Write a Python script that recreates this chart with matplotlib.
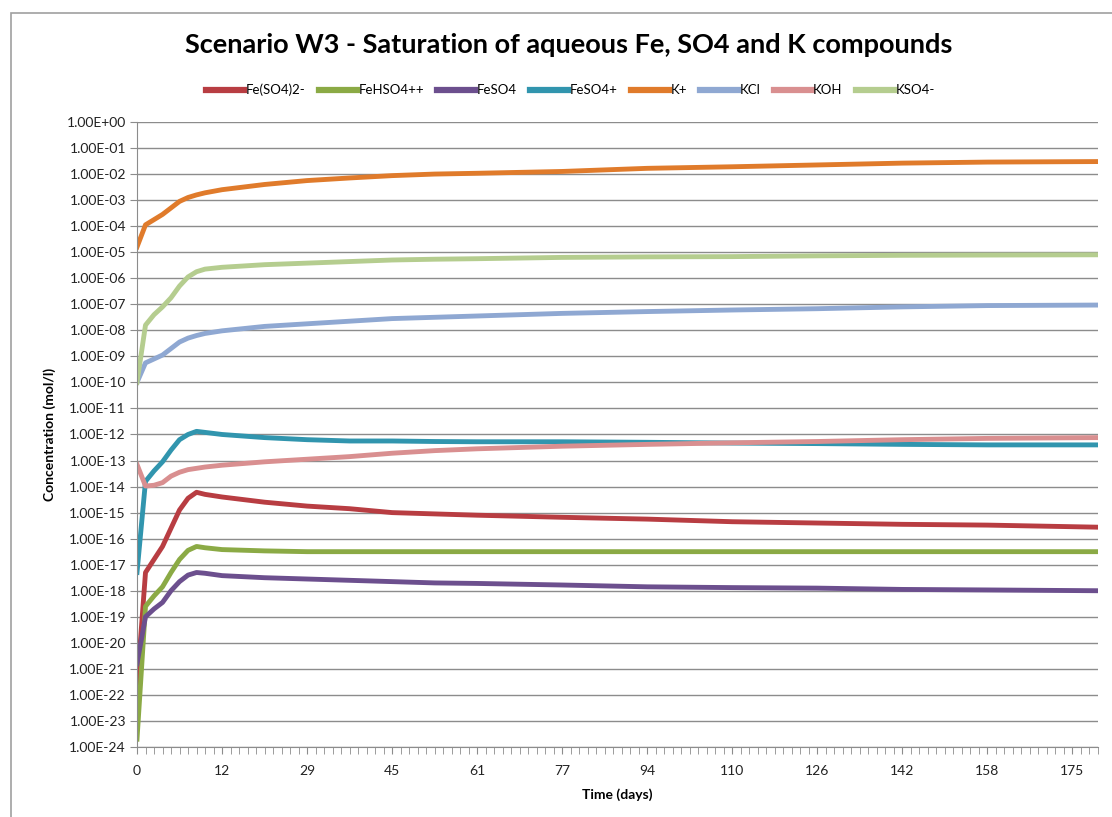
import numpy as np
import matplotlib
matplotlib.use('Agg')
import matplotlib.pyplot as plt
from matplotlib.ticker import FixedLocator, FuncFormatter, MultipleLocator
from matplotlib.patches import Rectangle

plt.rcParams['font.family'] = ['Lato', 'DejaVu Sans']

# sample position (category index) and log10 of concentration
idx = [0, 1, 2, 3, 4, 5, 6, 7, 8, 10, 15, 20, 25, 30, 35, 40, 50, 60, 70, 80, 90, 100, 113]

fe_so4_2 = [-21.7, -17.3, -16.8, -16.3, -15.6, -14.9, -14.45, -14.22, -14.3, -14.4, -14.6, -14.75,
            -14.85, -15.0, -15.05, -15.1, -15.18, -15.25, -15.35, -15.4, -15.45, -15.48, -15.56]
fehso4 = [-23.7, -18.6, -18.2, -17.85, -17.3, -16.8, -16.45, -16.3, -16.35, -16.42, -16.47, -16.5,
          -16.5, -16.5, -16.5, -16.5, -16.5, -16.5, -16.5, -16.5, -16.5, -16.5, -16.5]
feso4 = [-20.8, -19.0, -18.7, -18.45, -18.0, -17.65, -17.4, -17.3, -17.33, -17.42, -17.5, -17.55,
         -17.6, -17.65, -17.7, -17.72, -17.78, -17.85, -17.88, -17.9, -17.95, -17.97, -18.0]
feso4_plus = [-17.3, -13.8, -13.4, -13.05, -12.6, -12.2, -12.0, -11.88, -11.92, -12.0, -12.12, -12.2,
              -12.25, -12.25, -12.27, -12.28, -12.28, -12.3, -12.33, -12.35, -12.38, -12.4, -12.4]
k_plus = [-4.8, -3.95, -3.75, -3.55, -3.3, -3.05, -2.9, -2.8, -2.72, -2.6, -2.4, -2.25,
          -2.15, -2.06, -2.0, -1.97, -1.9, -1.78, -1.72, -1.65, -1.58, -1.54, -1.52]
kcl = [-10.0, -9.25, -9.1, -8.95, -8.7, -8.45, -8.3, -8.2, -8.12, -8.02, -7.85, -7.75,
       -7.65, -7.55, -7.5, -7.45, -7.35, -7.28, -7.22, -7.17, -7.1, -7.05, -7.03]
koh = [-13.15, -13.98, -13.95, -13.85, -13.6, -13.45, -13.35, -13.3, -13.25, -13.18, -13.05, -12.95,
       -12.85, -12.72, -12.62, -12.55, -12.45, -12.38, -12.32, -12.27, -12.2, -12.15, -12.12]
kso4 = [-10.0, -7.8, -7.4, -7.1, -6.75, -6.3, -5.95, -5.75, -5.65, -5.58, -5.48, -5.42,
        -5.36, -5.3, -5.27, -5.25, -5.2, -5.18, -5.17, -5.14, -5.12, -5.11, -5.1]

names = ['Fe(SO4)2-', 'FeHSO4++', 'FeSO4', 'FeSO4+', 'K+', 'KCl', 'KOH', 'KSO4-']
series = [fe_so4_2, fehso4, feso4, feso4_plus, k_plus, kcl, koh, kso4]
colors = ['#B83D42', '#8BAA45', '#6C4F8E', '#3195AE', '#E07B2B', '#8FA8D2', '#D98F90', '#B5CD8F']

day_labels = ['0', '12', '29', '45', '61', '77', '94', '110', '126', '142', '158', '175']
label_pos = [0, 10, 20, 30, 40, 50, 60, 70, 80, 90, 100, 110]

fig = plt.figure(figsize=(11.12, 8.17), dpi=100)
ax = fig.add_axes([0.1232, 0.0857, 0.8642, 0.765])

for name, vals, c in zip(names, series, colors):
    ax.plot(idx, 10.0 ** np.array(vals), color=c, lw=3.5, label=name, solid_joinstyle='round')

ax.set_yscale('log')
ax.set_ylim(1e-24, 1)
ax.set_xlim(0, 113)
ax.yaxis.set_major_locator(FixedLocator([10.0 ** e for e in range(-24, 1)]))
ax.yaxis.set_minor_locator(FixedLocator([]))
ax.yaxis.set_major_formatter(FuncFormatter(lambda v, p: f'{v:.2E}'))
ax.set_xticks(label_pos)
ax.set_xticklabels(day_labels)
ax.xaxis.set_minor_locator(MultipleLocator(1))

ax.grid(axis='y', color='#8C8C8C', lw=1.0)
ax.set_axisbelow(True)
for s in ['top', 'right']:
    ax.spines[s].set_visible(False)
for s in ['left', 'bottom']:
    ax.spines[s].set_color('#8C8C8C')
ax.tick_params(axis='y', which='major', length=5, color='#8C8C8C', labelsize=10, labelcolor='#222222', pad=3)
ax.tick_params(axis='x', which='both', length=5, color='#8C8C8C', labelsize=10, labelcolor='#222222', pad=8)

ax.set_xlabel('Time (days)', fontsize=10, fontweight='bold', labelpad=8)
ax.set_ylabel('Concentration (mol/l)', fontsize=10, fontweight='bold', labelpad=8)

fig.text(0.511, 0.945, 'Scenario W3 - Saturation of aqueous Fe, SO4 and K compounds',
         ha='center', va='center', fontsize=19.5, fontweight='bold')
leg = fig.legend(loc='center', bbox_to_anchor=(0.513, 0.890), ncol=8, frameon=False, fontsize=9.5,
                 handlelength=2.9, handletextpad=0.1, columnspacing=1.0)
for h in leg.get_lines():
    h.set_linewidth(4.5)

fig.patches.append(Rectangle((11 / 1112, -0.02), 1.1, 1 - 13 / 817 + 0.02, transform=fig.transFigure,
                             fill=False, edgecolor='#A0A0A0', lw=1.2))

fig.savefig('out.png', dpi=100)
